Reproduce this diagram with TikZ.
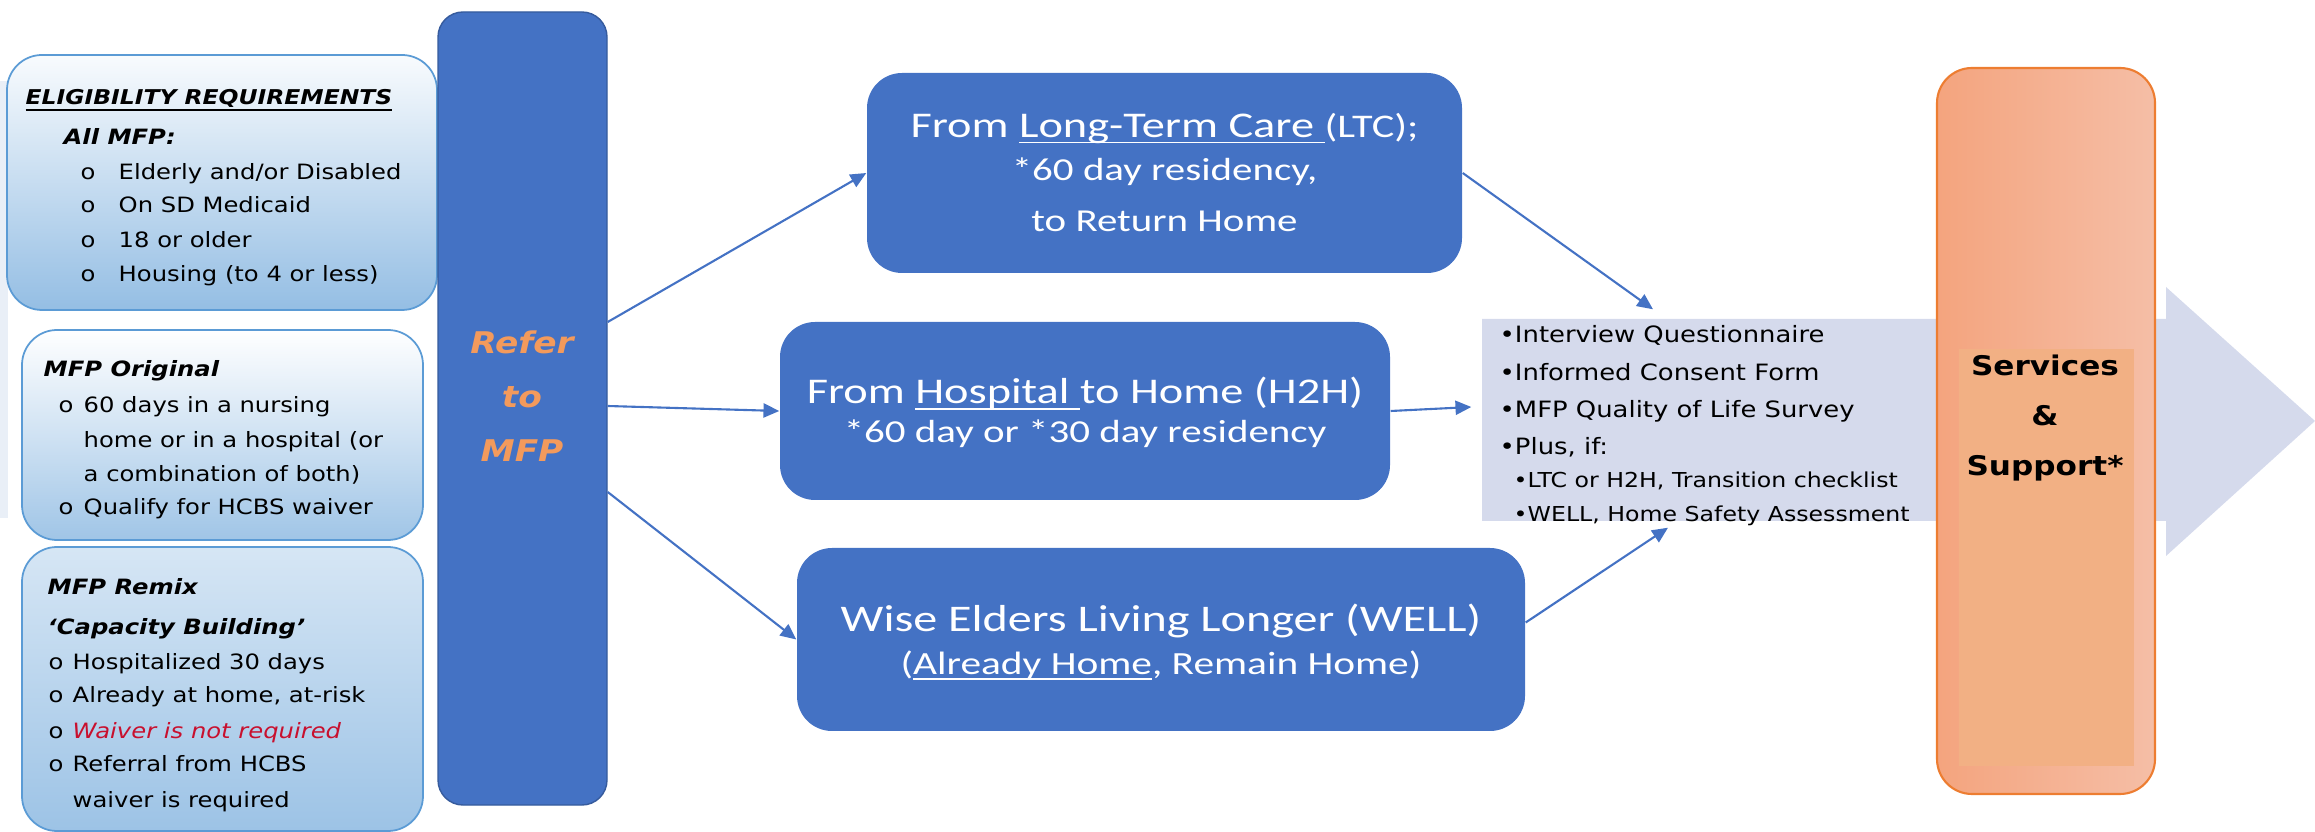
\documentclass[tikz,border=0pt]{standalone}
\usepackage{fontspec}
\usetikzlibrary{arrows.meta}
\newfontfamily\calfont[FakeStretch=1.28]{Carlito}
\newfontfamily\dvfont[FakeStretch=1.15]{DejaVu Sans}
\definecolor{mfpblue}{HTML}{4472C4}
\definecolor{edgeblue}{HTML}{5B9BD5}
\definecolor{paleblue}{HTML}{E9EFF7}
\definecolor{listgray}{HTML}{D5DAEC}
\definecolor{servline}{HTML}{ED7D31}
\definecolor{servleft}{HTML}{F4A47E}
\definecolor{servright}{HTML}{F5BEA6}
\definecolor{servin}{HTML}{F2B084}
\definecolor{referorange}{HTML}{F39A5C}
\definecolor{waivred}{HTML}{C8102E}
\newcommand{\obul}[1]{\makebox[#1][l]{o}}
\newcommand{\undl}[1]{\underline{\smash{#1}}}

\begin{document}
\begin{tikzpicture}

    \tikzset{
      lbox/.style={
        draw=edgeblue,
        line width=0.5pt,
        rounded corners=0.35cm,
        inner sep=0pt,
      },
      bbox/.style={fill=mfpblue, rounded corners=0.35cm, inner sep=0pt},
      ltxt/.style={anchor=base west, inner sep=0pt, font=\dvfont\fontsize{6}{7}\selectfont},
      lhead/.style={anchor=base west, inner sep=0pt, font=\dvfont\bfseries\itshape\fontsize{6}{7}\selectfont},
      ctxt/.style={anchor=base west, inner sep=0pt, font=\dvfont\fontsize{6.4}{7}\selectfont},
      csub/.style={anchor=base west, inner sep=0pt, font=\dvfont\fontsize{5.85}{7}\selectfont},
      btxt/.style={anchor=base, inner sep=0pt, text=white, font=\calfont\fontsize{9.1}{11}\selectfont},
      bbig/.style={btxt, font=\calfont\fontsize{10.3}{12}\selectfont},
      link/.style={draw=mfpblue, line width=0.6pt, -{Triangle[length=4.5pt,width=4pt]}},
    }
    \useasboundingbox (0,0) rectangle (23.15,-8.32);

    \fill[paleblue] (0,-0.81) rectangle (0.08,-5.18);
    \fill[listgray] (14.82,-3.19) -- (21.66,-3.19) -- (21.66,-2.87) -- (23.15,-4.21)
      -- (21.66,-5.56) -- (21.66,-5.21) -- (14.82,-5.21) -- cycle;

    % eligibility boxes
    \node[lbox, top color=white!96!edgeblue, bottom color=edgeblue!65, minimum width=4.30cm, minimum height=2.55cm] (elig) at (2.22,-1.825) {};
    \node[lbox, top color=white, bottom color=edgeblue!58, minimum width=4.01cm, minimum height=2.10cm] (orig) at (2.225,-4.35) {};
    \node[lbox, top color=edgeblue!25, middle color=white, bottom color=edgeblue!60, minimum width=4.01cm, minimum height=2.84cm] (remix) at (2.225,-6.89) {};

    \node[lhead, font=\dvfont\bfseries\itshape\fontsize{5.8}{7}\selectfont] (elighead) at (0.25,-1.05) {\undl{ELIGIBILITY REQUIREMENTS}};
    \node[lhead] (allmfp) at (0.63,-1.45) {All MFP:};
    \node[ltxt] (e1) at (0.80,-1.80) {\obul{0.38cm}Elderly and/or Disabled};
    \node[ltxt] (e2) at (0.80,-2.13) {\obul{0.38cm}On SD Medicaid};
    \node[ltxt] (e3) at (0.80,-2.48) {\obul{0.38cm}18 or older};
    \node[ltxt] (e4) at (0.80,-2.82) {\obul{0.38cm}Housing (to 4 or less)};

    \node[lhead] (orighead) at (0.43,-3.77) {MFP Original};
    \node[ltxt] (o1) at (0.58,-4.13) {\obul{0.25cm}60 days in a nursing};
    \node[ltxt] (o2) at (0.83,-4.48) {home or in a hospital (or};
    \node[ltxt] (o3) at (0.83,-4.82) {a combination of both)};
    \node[ltxt] (o4) at (0.58,-5.15) {\obul{0.25cm}Qualify for HCBS waiver};

    \node[lhead] (remhead) at (0.47,-5.95) {MFP Remix};
    \node[lhead] (remsub) at (0.47,-6.35) {‘Capacity Building’};
    \node[ltxt] (r1) at (0.48,-6.70) {\obul{0.24cm}Hospitalized 30 days};
    \node[ltxt] (r2) at (0.48,-7.03) {\obul{0.24cm}Already at home, at-risk};
    \node[ltxt] (r3) at (0.48,-7.38) {\obul{0.24cm}\textcolor{waivred}{\itshape Waiver is not required}};
    \node[ltxt] (r4) at (0.48,-7.72) {\obul{0.24cm}Referral from HCBS};
    \node[ltxt] (r5) at (0.72,-8.07) {waiver is required};

    % refer
    \node[bbox, draw=mfpblue!80!black, line width=0.4pt, rounded corners=0.25cm, minimum width=1.69cm, minimum height=7.93cm] (refer) at (5.225,-4.085) {};
    \node[align=center, text=referorange, font=\dvfont\bfseries\itshape\fontsize{8.5}{15.4}\selectfont] (refertxt) at (5.22,-3.96) {Refer\\to\\MFP};

    % the three paths
    \node[bbox, minimum width=5.95cm, minimum height=2.00cm] (ltc) at (11.645,-1.73) {};
    \node[bbig] (ltc1) at (11.645,-1.375) {From \undl{Long-Term Care\ }{\fontsize{9.4}{11}\selectfont(LTC);}};
    \node[btxt] (ltc2) at (11.645,-1.81) {*60 day residency,};
    \node[btxt] (ltc3) at (11.645,-2.32) {to Return Home};

    \node[bbox, minimum width=6.10cm, minimum height=1.78cm] (h2h) at (10.85,-4.11) {};
    \node[bbig] (h2h1) at (10.85,-4.04) {From \undl{Hospital\ }to Home (H2H)};
    \node[btxt] (h2h2) at (10.85,-4.43) {*60 day or *30 day residency};

    \node[bbox, minimum width=7.28cm, minimum height=1.83cm] (well) at (11.61,-6.395) {};
    \node[bbig, font=\calfont\fontsize{10.7}{12}\selectfont] (well1) at (11.61,-6.32) {Wise Elders Living Longer (WELL)};
    \node[btxt, font=\calfont\fontsize{9.2}{11}\selectfont] (well2) at (11.61,-6.74) {(\undl{Already Home}, Remain Home)};

    % checklist
    \node[minimum width=4.55cm, minimum height=2.02cm, inner sep=0pt] (checks) at (17.095,-4.20) {};
    \node[ctxt] (c1) at (14.99,-3.43) {•Interview Questionnaire};
    \node[ctxt] (c2) at (14.99,-3.81) {•Informed Consent Form};
    \node[ctxt] (c3) at (14.99,-4.18) {•MFP Quality of Life Survey};
    \node[ctxt] (c4) at (14.99,-4.55) {•Plus, if:};
    \node[csub] (c5) at (15.13,-4.88) {•LTC or H2H, Transition checklist};
    \node[csub] (c6) at (15.13,-5.22) {•WELL, Home Safety Assessment};

    % services
    \node[draw=servline, line width=0.6pt, left color=servleft, right color=servright, rounded corners=0.35cm, inner sep=0pt, minimum width=2.18cm, minimum height=7.26cm] (serv) at (20.46,-4.31) {};
    \fill[servin] (19.59,-3.49) rectangle (21.34,-7.66);
    \node[align=center, font=\dvfont\bfseries\fontsize{7.7}{14.2}\selectfont] (servtxt) at (20.45,-4.18) {Services\\\&\\Support*};

    \draw[link] ([yshift=0.865cm]refer.east) -- (ltc.west);
    \draw[link] ([yshift=0.025cm]refer.east) -- (h2h.west);
    \draw[link] ([yshift=-0.835cm]refer.east) -- (well.west);
    \draw[link] (ltc.east) -- ([shift={(-0.565,0.09)}]checks.north);
    \draw[link] (h2h.east) -- ([shift={(-0.10,0.13)}]checks.west);
    \draw[link] ([yshift=0.17cm]well.east) -- ([shift={(-0.415,-0.06)}]checks.south);

\end{tikzpicture}
\end{document}
